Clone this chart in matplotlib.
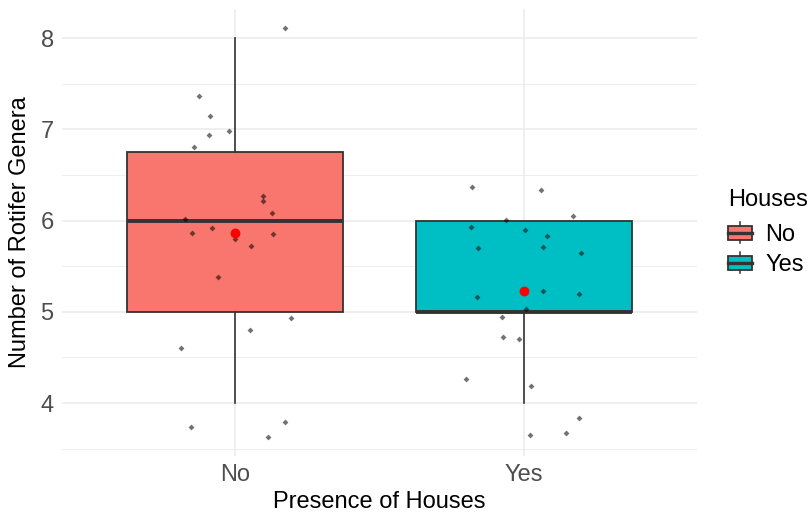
import numpy as np
import matplotlib
matplotlib.use("Agg")
import matplotlib.pyplot as plt
from matplotlib.legend_handler import HandlerBase
from matplotlib.patches import Rectangle
from matplotlib.lines import Line2D

plt.rcParams['font.family'] = ['Liberation Sans', 'DejaVu Sans']

# Data
groups = ['No', 'Yes']
colors = ['#F8766D', '#00BFC4']

# raw genus counts per sample (integers, used for the box statistics)
counts_no = [8, 7, 7, 7, 7, 7, 6, 6, 6, 6, 6, 6, 6, 6, 6, 5, 5, 5, 5, 4, 4, 4]
counts_yes = [6, 6, 6, 6, 6, 6, 6, 6, 6, 6, 5, 5, 5, 5, 5, 5, 5, 4, 4, 4, 4, 4]

# jittered points as drawn (horizontal offset from category, value)
jx_no = [0.171, -0.126, -0.088, -0.020, -0.091, -0.143, 0.098, 0.096, 0.126, -0.175, -0.079,
         -0.149, -0.002, 0.131, 0.055, -0.061, 0.194, 0.052, -0.188, 0.173, -0.153, 0.114]
jy_no = [8.11, 7.364, 7.149, 6.984, 6.937, 6.805, 6.268, 6.210, 6.082, 6.016, 5.914,
         5.867, 5.797, 5.855, 5.717, 5.384, 4.934, 4.802, 4.606, 3.788, 3.734, 3.631]
jx_yes = [-0.179, 0.059, 0.171, -0.063, -0.182, 0.004, 0.079, -0.158, 0.067, 0.197, -0.162,
          0.067, 0.191, 0.008, -0.075, -0.072, -0.016, -0.200, 0.025, 0.191, 0.023, 0.146]
jy_yes = [6.364, 6.334, 6.053, 6.005, 5.929, 5.892, 5.827, 5.695, 5.713, 5.641, 5.162,
          5.227, 5.198, 5.027, 4.942, 4.727, 4.698, 4.260, 4.183, 3.839, 3.649, 3.668]

counts = [counts_no, counts_yes]
jitter_x = [jx_no, jx_yes]
jitter_y = [jy_no, jy_yes]

EDGE = '#333333'
GRID = '#EBEBEB'
FS = 17


class BoxKeyHandler(HandlerBase):
    """ggplot-like boxplot legend key"""
    def __init__(self, face):
        super().__init__()
        self.face = face

    def create_artists(self, legend, orig_handle, xdescent, ydescent,
                       width, height, fontsize, trans):
        pad = 0.17 * height
        x0, y0 = -xdescent, -ydescent
        rect = Rectangle((x0, y0 + pad), width, height - 2 * pad,
                         facecolor=self.face, edgecolor=EDGE, lw=1.3, transform=trans)
        mid = y0 + height / 2
        med = Line2D([x0, x0 + width], [mid, mid], color=EDGE, lw=2.4, transform=trans)
        cx = x0 + width / 2
        top = Line2D([cx, cx], [y0 + height - pad, y0 + height], color=EDGE, lw=1.1, transform=trans)
        bot = Line2D([cx, cx], [y0, y0 + pad], color=EDGE, lw=1.1, transform=trans)
        return [rect, med, top, bot]


fig = plt.figure(figsize=(8.1, 5.2), dpi=100)
ax = fig.add_axes([0.0765, 0.123, 0.784, 0.86])

positions = np.arange(1, len(groups) + 1)
bp = ax.boxplot(counts, positions=positions, widths=0.75, whis=1.5, patch_artist=True,
                showcaps=False, showfliers=False, zorder=2,
                boxprops=dict(edgecolor=EDGE, linewidth=1.3),
                whiskerprops=dict(color=EDGE, linewidth=1.2),
                medianprops=dict(color=EDGE, linewidth=2.8, solid_capstyle='butt'))
for patch, c in zip(bp['boxes'], colors):
    patch.set_facecolor(c)

for i, p in enumerate(positions):
    xs = p + np.array(jitter_x[i])
    ax.scatter(xs, jitter_y[i], s=9, marker='D', color='black', alpha=0.55,
               linewidths=0, zorder=3)
    ax.scatter([p], [np.mean(counts[i])], s=50, color='red', linewidths=0, zorder=4)

ax.set_xlim(0.4, 2.6)
ax.set_ylim(3.42, 8.32)
ax.set_xticks(positions)
ax.set_xticklabels(groups)
ax.set_yticks([4, 5, 6, 7, 8])
ax.set_yticks([3.5, 4.5, 5.5, 6.5, 7.5], minor=True)

ax.grid(True, which='major', color=GRID, linewidth=1.1, zorder=0)
ax.grid(True, which='minor', axis='y', color=GRID, linewidth=0.6, zorder=0)
ax.set_axisbelow(True)
for s in ax.spines.values():
    s.set_visible(False)
ax.tick_params(which='both', length=0, labelsize=FS, labelcolor='#4D4D4D')
ax.tick_params(axis='x', pad=6)
ax.tick_params(axis='y', pad=6)

ax.set_xlabel('Presence of Houses', fontsize=FS, labelpad=3)
ax.set_ylabel('Number of Rotifer Genera', fontsize=FS, labelpad=7)

# legend: title as separate text so the gap to the keys can match
fig.text(0.899, 0.615, 'Houses', fontsize=FS, ha='left', va='center')
handles = [Rectangle((0, 0), 1, 1) for _ in groups]
hmap = {h: BoxKeyHandler(c) for h, c in zip(handles, colors)}
fig.legend(handles, groups, handler_map=hmap, frameon=False,
           loc='center left', bbox_to_anchor=(0.899, 0.521), fontsize=FS,
           handlelength=1.02, handleheight=1.0,
           handletextpad=0.55, labelspacing=0.27, borderaxespad=0, borderpad=0)

fig.savefig('out.png', dpi=100)
